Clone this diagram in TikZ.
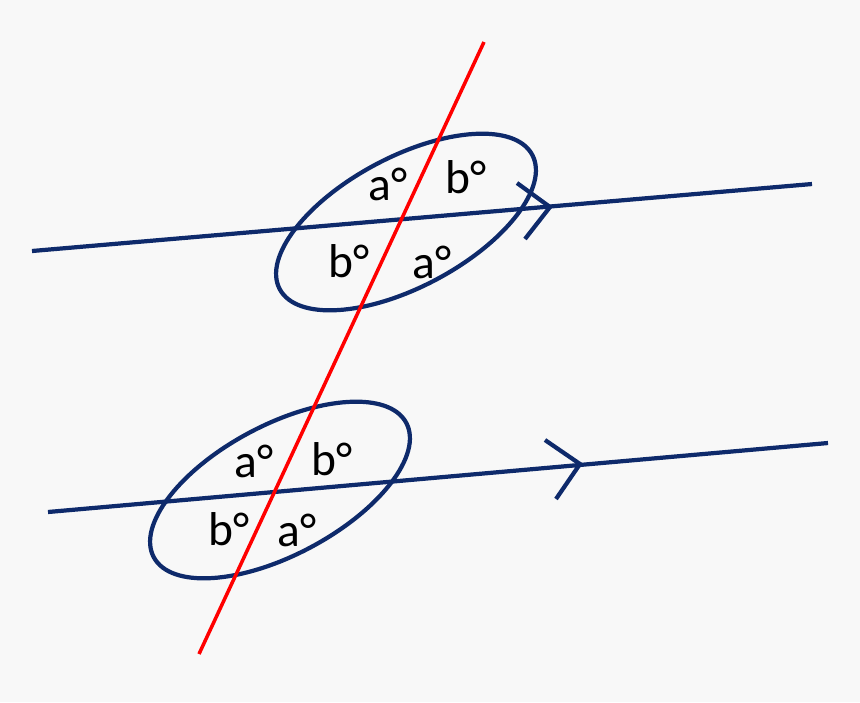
\documentclass[tikz,border=0pt]{standalone}
\usepackage{fontspec}
\setmainfont{Carlito}
\definecolor{navy}{HTML}{0E2A6B}
\definecolor{bg}{HTML}{F8F8F8}
\begin{document}
\begin{tikzpicture}[x=0.01cm,y=-0.01cm,
  bl/.style={draw=navy,line width=1.2pt},
  lab/.style={font=\fontsize{13.5}{15}\selectfont,text=black,inner sep=0pt}]
\fill[bg] (0,0) rectangle (860,702);
\useasboundingbox (0,0) rectangle (860,702);
\coordinate (t1) at (32,251); \coordinate (t2) at (812,184);
\coordinate (b1) at (48,512); \coordinate (b2) at (828,443);
\coordinate (r1) at (484,42); \coordinate (r2) at (199,654);
\draw[bl] (t1) -- (t2);
\draw[bl] (b1) -- (b2);
\draw[bl,line join=miter] (517,183) -- (550,207) -- (525,239);
\draw[bl,line join=miter] (545,440) -- (580,464) -- (556,499);
\draw[bl] (406,222) ellipse[x radius=143,y radius=65,rotate=28];
\draw[bl] (280,490) ellipse[x radius=143,y radius=65,rotate=28];
\draw[red,line width=1pt] (r1) -- (r2);
\node[lab] (l1) at (388,184) {a°};
\node[lab] (l2) at (466,177) {b°};
\node[lab] (l3) at (349,261) {b°};
\node[lab] (l4) at (432,262) {a°};
\node[lab] (l5) at (254,461) {a°};
\node[lab] (l6) at (332,459) {b°};
\node[lab] (l7) at (229,529) {b°};
\node[lab] (l8) at (297,530) {a°};
\end{tikzpicture}
\end{document}
